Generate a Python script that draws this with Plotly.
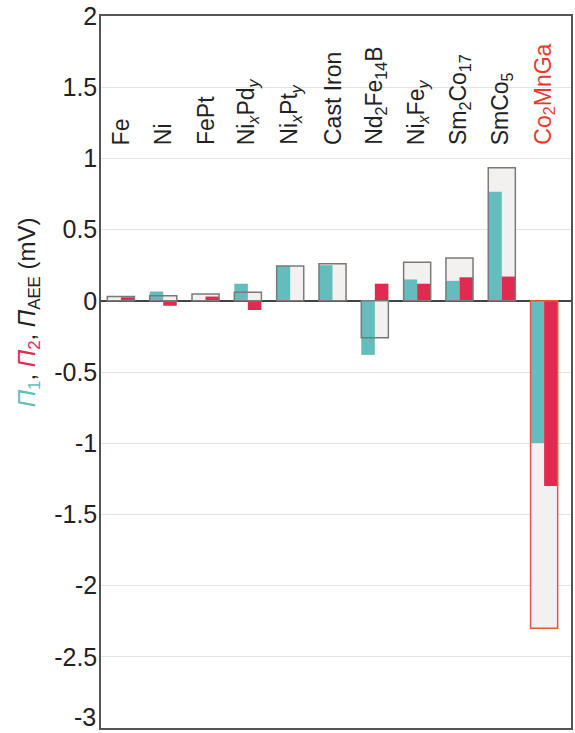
import plotly.graph_objects as go

labels = ["Fe", "Ni", "FePt", "Ni<sub><i>x</i></sub>Pd<sub><i>y</i></sub>",
          "Ni<sub><i>x</i></sub>Pt<sub><i>y</i></sub>", "Cast Iron",
          "Nd<sub>2</sub>Fe<sub>14</sub>B", "Ni<sub><i>x</i></sub>Fe<sub><i>y</i></sub>",
          "Sm<sub>2</sub>Co<sub>17</sub>", "SmCo<sub>5</sub>", "Co<sub>2</sub>MnGa"]
label_colors = ["#222222"] * 10 + ["#e8392f"]
pi1 = [0.0, 0.065, 0.0, 0.12, 0.245, 0.25, -0.38, 0.15, 0.14, 0.765, -1.0]
pi2 = [0.025, -0.035, 0.03, -0.065, 0.0, 0.0, 0.12, 0.12, 0.165, 0.17, -1.30]
aee = [0.03, 0.035, 0.047, 0.06, 0.245, 0.26, -0.26, 0.27, 0.30, 0.935, -2.30]
outline_colors = ["#7a7a7a"] * 10 + ["#e8553e"]
yticks = [2, 1.5, 1, 0.5, 0, -0.5, -1, -1.5, -2, -2.5, -3]
ytick_text = ["2", "1.5", "1", "0.5", "0", "-0.5", "-1", "-1.5", "-2", "-2.5", "-3"]

x = list(range(len(labels)))
W = 0.64
FONT = "Liberation Sans, Arial"

fig = go.Figure()
fig.add_trace(go.Bar(x=x, y=aee, width=W, offset=-W / 2,
                     marker=dict(color="#f2f1f0", line=dict(width=0)), hoverinfo="skip"))
fig.add_trace(go.Bar(x=x, y=pi1, width=W / 2, offset=-W / 2,
                     marker=dict(color="#63bdbc", line=dict(width=0))))
fig.add_trace(go.Bar(x=x, y=pi2, width=W / 2, offset=0,
                     marker=dict(color="#e2294f", line=dict(width=0))))
fig.add_trace(go.Bar(x=x, y=aee, width=W, offset=-W / 2,
                     marker=dict(color="rgba(0,0,0,0)",
                                 line=dict(width=1.5, color=outline_colors)), hoverinfo="skip"))

for i, (lab, col) in enumerate(zip(labels, label_colors)):
    fig.add_annotation(x=i, y=1.08, text=lab, textangle=-90, showarrow=False,
                       xanchor="center", yanchor="bottom",
                       font=dict(family=FONT, size=23, color=col))

# lowest tick label drawn as annotation so it is not clipped at the figure edge
fig.add_annotation(xref="paper", yref="y", x=(97 - 101) / 472, y=yticks[-1],
                   text=ytick_text[-1], showarrow=False, xanchor="right", yanchor="bottom",
                   yshift=-4, borderpad=0, font=dict(family=FONT, size=25, color="#222222"))
ticktext_axis = ytick_text[:-1] + [""]

ytitle = ('<span style="color:#5fbfb9"><i>Π</i><sub>1</sub></span>, '
          '<span style="color:#e2294f"><i>Π</i><sub>2</sub></span>, '
          '<i>Π</i><sub>AEE</sub> (mV)')
fig.add_annotation(xref="paper", yref="paper", x=(28 - 101) / 472, y=(728 - 312) / 712,
                   text=ytitle, showarrow=False, textangle=-90,
                   xanchor="center", yanchor="middle",
                   font=dict(family=FONT, size=24, color="#222222"))

fig.update_layout(
    width=575, height=733,
    margin=dict(l=101, r=2, t=16, b=5),
    barmode="overlay",
    showlegend=False,
    plot_bgcolor="white", paper_bgcolor="white",
    font=dict(family=FONT, size=22, color="#222222"),
    xaxis=dict(range=[-0.47, 10.635], showticklabels=False, showgrid=False,
               zeroline=False, showline=True, linecolor="#555555", linewidth=1.5,
               mirror=True, ticks=""),
    yaxis=dict(range=[-3, 2], tickvals=yticks, ticktext=ticktext_axis,
               showgrid=True, gridcolor="#e3e3e3", gridwidth=1,
               zeroline=True, zerolinecolor="#444444", zerolinewidth=1.5,
               showline=True, linecolor="#555555", linewidth=1.5, mirror=True,
               ticks="", ticklabelstandoff=-3,
               tickfont=dict(family=FONT, size=25, color="#222222")),
)

fig.write_html("out.html", config={"displayModeBar": False},
               post_script="document.body.style.margin='0';document.body.style.overflow='hidden';")
